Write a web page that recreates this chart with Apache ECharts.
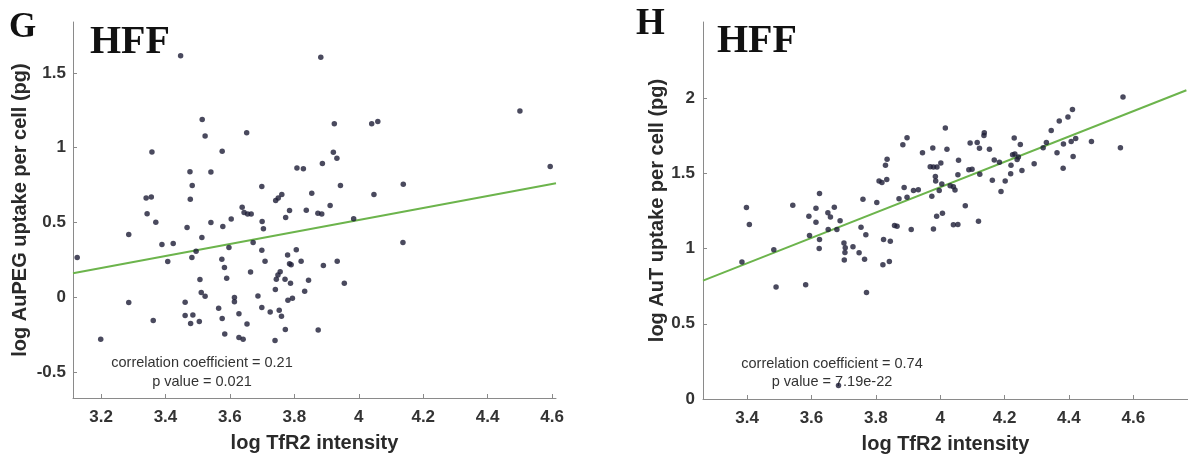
<!DOCTYPE html>
<html>
<head>
<meta charset="utf-8">
<script src="https://cdn.jsdelivr.net/npm/echarts@6/dist/echarts.min.js"></script>
<style>
  html, body { margin: 0; padding: 0; background: #fff; }
  #chart { width: 1188px; height: 459px; }
</style>
</head>
<body>
<div id="chart"></div>
<script>
// Panel G: HFF cells, AuPEG uptake vs TfR2 intensity (log scales)
const gTfR2 = [
  3.447, 3.514, 3.523, 3.652, 3.358, 3.576, 3.476, 3.541, 3.483, 3.340,
  3.356, 3.477, 3.638, 3.644, 3.655, 3.666, 3.343, 3.370, 3.541, 3.604,
  3.467, 3.578, 3.286, 3.513, 3.389, 3.424, 3.597, 3.495, 3.126, 3.407,
  3.482, 3.575, 3.583, 3.664, 3.590, 3.507, 3.511, 3.523, 3.286, 3.461,
  3.614, 3.614, 3.565, 3.461, 3.485, 3.478, 3.505, 3.576, 3.628, 3.653,
  3.362, 3.584, 3.199, 3.628, 3.641, 3.808, 3.699, 3.742, 3.750, 3.761,
  3.785, 3.773, 3.700, 3.704, 3.921, 3.932, 3.828, 3.887, 3.943, 3.854,
  4.047, 4.138, 3.911, 3.837, 3.873, 3.885, 3.984, 3.672, 4.137, 3.699,
  3.806, 3.779, 3.709, 3.785, 3.790, 3.821, 3.933, 3.890, 3.756, 3.749,
  3.744, 3.771, 3.788, 3.844, 3.955, 3.741, 3.832, 3.687, 3.794, 3.780,
  3.699, 3.725, 3.753, 3.760, 3.772, 3.874, 3.740, 3.882, 3.924, 4.040,
  4.059, 4.500, 4.594
];
const gAuPEG = [
  1.615, 1.189, 1.078, 1.101, 0.971, 0.977, 0.839, 0.837, 0.748, 0.663,
  0.671, 0.656, 0.602, 0.566, 0.556, 0.556, 0.558, 0.502, 0.500, 0.524,
  0.467, 0.473, 0.420, 0.400, 0.353, 0.359, 0.333, 0.308, 0.266, 0.239,
  0.266, 0.254, 0.199, 0.169, 0.127, 0.118, 0.031, 0.007, -0.035, -0.033,
  -0.002, -0.031, -0.074, -0.122, -0.118, -0.176, -0.163, -0.143, -0.110, -0.179,
  -0.156, -0.246, -0.281, -0.270, -0.281, 0.865, 0.741, 0.647, 0.663, 0.687,
  0.580, 0.533, 0.507, 0.458, 0.969, 0.930, 0.859, 0.895, 0.748, 0.696,
  0.687, 0.756, 0.614, 0.582, 0.562, 0.556, 0.525, 0.366, 0.366, 0.315,
  0.318, 0.283, 0.241, 0.224, 0.218, 0.241, 0.241, 0.212, 0.171, 0.149,
  0.120, 0.120, 0.094, 0.114, 0.094, 0.052, 0.040, 0.009, -0.007, -0.020,
  -0.069, -0.098, -0.087, -0.127, -0.216, -0.219, -0.290, 1.606, 1.160, 1.160,
  1.176, 1.245, 0.875
];
// least-squares fit line end points for panel G
const gFitX = [3.113, 4.612];
const gFitY = [0.161, 0.763];

// Panel H: HFF cells, AuT uptake vs TfR2 intensity (log scales)
const hTfR2 = [
  3.835, 3.830, 3.810, 3.819, 3.834, 3.625, 3.398, 3.407, 3.542, 3.614,
  3.592, 3.614, 3.651, 3.659, 3.671, 3.689, 3.760, 3.803, 3.872, 3.858,
  3.866, 3.754, 3.769, 3.824, 3.845, 3.594, 3.625, 3.652, 3.679, 3.624,
  3.701, 3.705, 3.704, 3.729, 3.748, 3.702, 3.765, 3.822, 3.842, 3.483,
  3.384, 3.490, 3.582, 3.771, 3.910, 3.684, 4.411, 4.397, 4.370, 4.345,
  4.016, 3.897, 3.884, 4.137, 4.136, 4.230, 4.249, 4.093, 4.115, 4.122,
  3.977, 4.021, 3.945, 4.153, 4.330, 4.383, 4.407, 4.421, 4.470, 4.320,
  4.363, 4.413, 4.382, 4.292, 4.254, 4.219, 4.220, 4.225, 4.232, 4.239,
  4.243, 4.168, 4.184, 4.057, 4.002, 3.969, 3.979, 3.990, 4.089, 4.099,
  4.123, 4.055, 4.162, 4.202, 4.189, 3.985, 3.986, 4.005, 4.031, 4.041,
  4.046, 3.997, 3.888, 3.917, 3.932, 3.897, 3.974, 4.078, 3.989, 4.007,
  3.979, 4.041, 4.055, 4.119, 4.568, 4.560
];
const hAuT = [
  1.595, 1.555, 1.449, 1.440, 1.460, 1.367, 1.273, 1.160, 1.289, 1.269,
  1.215, 1.175, 1.238, 1.211, 1.275, 1.185, 1.329, 1.307, 1.331, 1.153,
  1.149, 1.142, 1.093, 1.060, 1.049, 1.087, 1.060, 1.127, 1.127, 1.000,
  1.038, 1.005, 0.975, 1.013, 0.973, 0.925, 0.929, 0.893, 0.915, 0.993,
  0.911, 0.745, 0.760, 0.709, 1.127, 0.089, 1.925, 1.875, 1.849, 1.785,
  1.802, 1.738, 1.691, 1.771, 1.753, 1.735, 1.693, 1.702, 1.705, 1.667,
  1.669, 1.660, 1.638, 1.660, 1.705, 1.695, 1.713, 1.733, 1.713, 1.671,
  1.638, 1.613, 1.535, 1.565, 1.520, 1.498, 1.555, 1.625, 1.629, 1.593,
  1.609, 1.589, 1.575, 1.587, 1.569, 1.545, 1.542, 1.542, 1.525, 1.527,
  1.495, 1.491, 1.455, 1.449, 1.380, 1.480, 1.450, 1.429, 1.418, 1.411,
  1.389, 1.387, 1.407, 1.387, 1.391, 1.342, 1.349, 1.285, 1.215, 1.235,
  1.131, 1.158, 1.160, 1.182, 2.009, 1.671
];
// least-squares fit line end points for panel H
const hFitX = [3.263, 4.765];
const hFitY = [0.787, 2.053];

// tick positions
const gXTicks = [3.2, 3.4, 3.6, 3.8, 4.0, 4.2, 4.4, 4.6];
const gYTicks = [-0.5, 0, 0.5, 1, 1.5];
const hXTicks = [3.4, 3.6, 3.8, 4.0, 4.2, 4.4, 4.6];
const hYTicks = [0, 0.5, 1, 1.5, 2];

const pairs = (xs, ys) => xs.map((x, i) => [x, ys[i]]);

const SANS = '"Liberation Sans", Arial, sans-serif';
const SERIF = '"Liberation Serif", "Times New Roman", serif';
const AXIS_GRAY = '#8a8a8a';

function axis(gridIndex, min, max, ticks, name, nameGap, labelMargin) {
  return {
    type: 'value',
    gridIndex,
    min, max,
    name,
    nameLocation: 'middle',
    nameGap,
    nameTextStyle: { fontFamily: SANS, fontWeight: 'bold', fontSize: 20, color: '#2a2a2a' },
    axisLine: { show: true, onZero: false, lineStyle: { color: AXIS_GRAY, width: 1 } },
    axisTick: { show: true, inside: true, length: 4, customValues: ticks, lineStyle: { color: AXIS_GRAY } },
    axisLabel: {
      customValues: ticks,
      color: '#333',
      fontFamily: SANS,
      fontWeight: 'bold',
      fontSize: 17,
      margin: labelMargin
    },
    splitLine: { show: false }
  };
}

const dotStyle = { color: '#1d1d36' };
const fitStyle = { color: '#6cb44c', width: 2 };

const chart = echarts.init(document.getElementById('chart'), null, { renderer: 'canvas' });

chart.setOption({
  backgroundColor: '#fff',
  animation: false,
  grid: [
    { left: 73, top: 22, width: 483, height: 376 },
    { left: 703, top: 22, width: 485, height: 377 }
  ],
  xAxis: [
    axis(0, 3.113, 4.612, gXTicks, 'log TfR2 intensity', 35, 11),
    axis(1, 3.263, 4.77, hXTicks, 'log TfR2 intensity', 35, 11)
  ],
  yAxis: [
    axis(0, -0.674, 1.841, gYTicks, 'log AuPEG uptake per cell (pg)', 43, 7),
    axis(1, 0, 2.507, hYTicks, 'log AuT uptake per cell (pg)', 36, 8)
  ],
  series: [
    {
      type: 'line', xAxisIndex: 0, yAxisIndex: 0,
      data: pairs(gFitX, gFitY), symbol: 'none', lineStyle: fitStyle, z: 1
    },
    {
      type: 'scatter', xAxisIndex: 0, yAxisIndex: 0,
      data: pairs(gTfR2, gAuPEG), symbolSize: 5.5, itemStyle: dotStyle, z: 3
    },
    {
      type: 'line', xAxisIndex: 1, yAxisIndex: 1,
      data: pairs(hFitX, hFitY), symbol: 'none', lineStyle: fitStyle, z: 1
    },
    {
      type: 'scatter', xAxisIndex: 1, yAxisIndex: 1,
      data: pairs(hTfR2, hAuT), symbolSize: 5.5, itemStyle: dotStyle, z: 3
    }
  ],
  graphic: [
    { type: 'text', z: 0, style: { text: 'G', x: 9, y: 28, font: 'bold 35px ' + SERIF, fill: '#111', verticalAlign: 'middle' } },
    { type: 'text', z: 0, style: { text: 'HFF', x: 90, y: 43, font: 'bold 40px ' + SERIF, fill: '#111', verticalAlign: 'middle' } },
    { type: 'text', z: 0, style: { text: 'H', x: 636, y: 24, font: 'bold 37px ' + SERIF, fill: '#111', verticalAlign: 'middle' } },
    { type: 'text', z: 0, style: { text: 'HFF', x: 717, y: 42, font: 'bold 40px ' + SERIF, fill: '#111', verticalAlign: 'middle' } },
    { type: 'text', z: 0, style: { text: 'correlation coefficient = 0.21', x: 202, y: 363, font: '14.5px ' + SANS, fill: '#333', align: 'center', verticalAlign: 'middle' } },
    { type: 'text', z: 0, style: { text: 'p value = 0.021', x: 202, y: 382, font: '14.5px ' + SANS, fill: '#333', align: 'center', verticalAlign: 'middle' } },
    { type: 'text', z: 0, style: { text: 'correlation coefficient = 0.74', x: 832, y: 364, font: '14.5px ' + SANS, fill: '#333', align: 'center', verticalAlign: 'middle' } },
    { type: 'text', z: 0, style: { text: 'p value = 7.19e-22', x: 832, y: 382, font: '14.5px ' + SANS, fill: '#333', align: 'center', verticalAlign: 'middle' } }
  ]
});
</script>
</body>
</html>
